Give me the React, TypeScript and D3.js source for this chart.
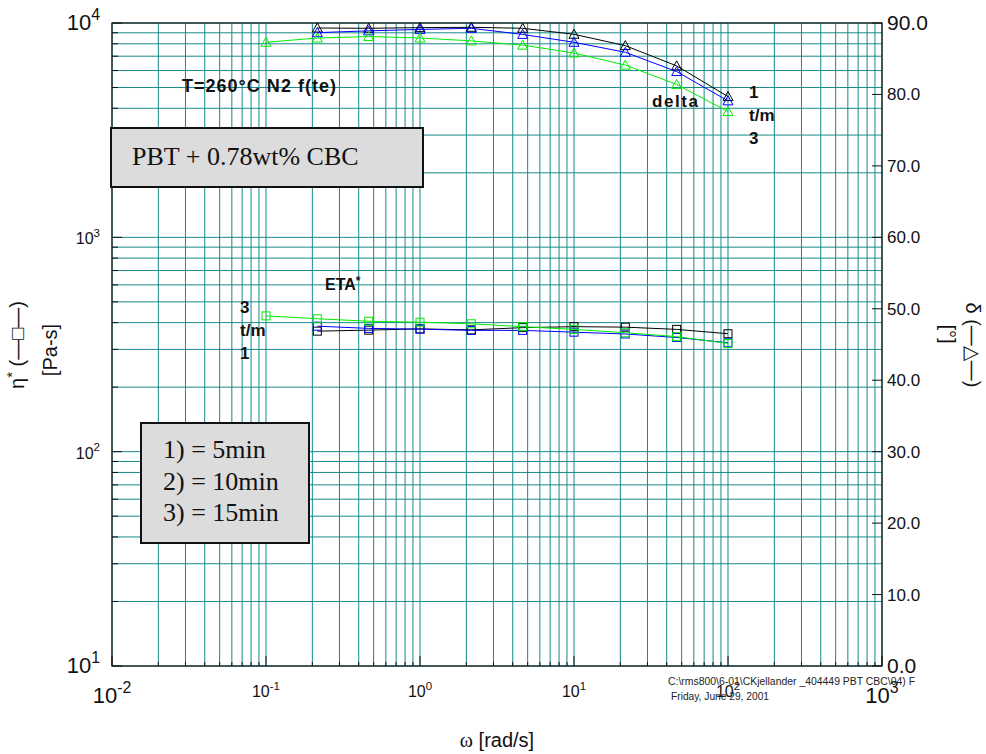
import { scaleLog, scaleLinear, line, format } from "d3";

// frequencies (rad/s), 3 points per decade
const freq = [0.1, 0.2154, 0.4642, 1, 2.154, 4.642, 10, 21.54, 46.42, 100];

// delta [deg] (right axis)
const delta1 = [null, 89.3, 89.26, 89.35, 89.4, 89.26, 88.42, 86.83, 84.0, 79.7];
const delta2 = [null, 88.65, 88.9, 89.1, 89.26, 88.4, 87.3, 85.9, 83.2, 79.1];
const delta3 = [87.3, 87.9, 88.1, 87.9, 87.5, 86.9, 85.8, 84.1, 81.4, 77.6];

// eta* [Pa-s] (left axis)
const eta1 = [null, 365, 369, 374, 370, 379, 383, 381, 372, 355];
const eta2 = [null, 385, 376, 373, 368, 368, 361, 354, 341, 322];
const eta3 = [430, 417, 406, 402, 395, 383, 372, 359, 344, 320];

const seriesColors = ["#000000", "#0000ff", "#00ee00"];

const xExp = [-2, -1, 0, 1, 2, 3];
const yExp = [1, 2, 3, 4];
const rightTicks = [0, 10, 20, 30, 40, 50, 60, 70, 80, 90];

const legendLines = ["1) = 5min", "2) = 10min", "3) = 15min"];

const SANS = "Liberation Sans, Arial, sans-serif";
const SERIF = "Liberation Serif, Times New Roman, serif";
const GRID = "#17898a";

const margin = { top: 23, right: 104, bottom: 88, left: 112 };
const W = 986;
const H = 754;
const iw = W - margin.left - margin.right;
const ih = H - margin.top - margin.bottom;

function minorValues(lo: number, hi: number) {
  const out: number[] = [];
  for (let e = lo; e < hi; e++) {
    for (let m = 1; m <= 9; m++) out.push(m * Math.pow(10, e));
  }
  out.push(Math.pow(10, hi));
  return out;
}

function Pow({ exp, x, y, size, anchor }) {
  return (
    <text x={x} y={y} fontFamily={SANS} fontSize={size} textAnchor={anchor} fill="#111">
      10
      <tspan dy={-size * 0.45} fontSize={size * 0.72}>
        {exp}
      </tspan>
    </text>
  );
}

function Triangle({ x, y, color }) {
  return (
    <path
      d={`M${x},${y - 5}L${x + 5},${y + 4}L${x - 5},${y + 4}Z`}
      fill="none"
      stroke={color}
      strokeWidth={1}
    />
  );
}

function Square({ x, y, color }) {
  return <rect x={x - 4} y={y - 4} width={8} height={8} fill="none" stroke={color} strokeWidth={1} />;
}

export default function App() {
  const x = scaleLog().domain([1e-2, 1e3]).range([0, iw]);
  const yL = scaleLog().domain([10, 1e4]).range([ih, 0]);
  const yR = scaleLinear().domain([0, 90]).range([ih, 0]);

  const xGrid = minorValues(-2, 3);
  const yGrid = minorValues(1, 4);

  const mkLine = (ys) =>
    line<number>()
      .defined((_, i) => ys[i] != null)
      .x((_, i) => x(freq[i]))
      .y((_, i) => ys[i])(freq);

  const deltaSeries = [delta1, delta2, delta3];
  const etaSeries = [eta1, eta2, eta3];
  const f1 = format(".1f");

  return (
    <svg
      width={W}
      height={H}
      style={{ position: "absolute", left: 0, top: 0, background: "#fff" }}
    >
      <g transform={`translate(${margin.left},${margin.top})`}>
        {/* grid */}
        {xGrid.map((v, i) => (
          <line key={`gx${i}`} x1={x(v)} x2={x(v)} y1={0} y2={ih} stroke={GRID} strokeWidth={1} />
        ))}
        {yGrid.map((v, i) => (
          <line key={`gy${i}`} x1={0} x2={iw} y1={yL(v)} y2={yL(v)} stroke={GRID} strokeWidth={1} />
        ))}

        {/* left ticks */}
        {yGrid.map((v, i) => {
          const major = Number.isInteger(Math.log10(v)) ;
          return (
            <line key={`ty${i}`} x1={0} x2={major ? 10 : 6} y1={yL(v)} y2={yL(v)} stroke="#111" />
          );
        })}
        {/* bottom ticks */}
        {xGrid.map((v, i) => {
          const major = Math.abs(Math.log10(v) - Math.round(Math.log10(v))) < 1e-9;
          return (
            <line key={`tx${i}`} x1={x(v)} x2={x(v)} y1={ih} y2={ih - (major ? 10 : 4)} stroke="#111" />
          );
        })}
        {/* right ticks */}
        {rightTicks.map((v) => (
          <line key={`tr${v}`} x1={iw - 10} x2={iw} y1={yR(v)} y2={yR(v)} stroke="#111" />
        ))}

        {/* frame */}
        <rect x={0} y={0} width={iw} height={ih} fill="none" stroke="#111" strokeWidth={1.2} />

        {/* annotation boxes */}
        <rect x={-1} y={105} width={312} height={59} fill="#dcdcdc" stroke="#111" strokeWidth={2} />
        <text x={20} y={142} fontFamily={SERIF} fontSize={26} fill="#111">
          PBT + 0.78wt% CBC
        </text>

        <rect x={29} y={400} width={168} height={120} fill="#dcdcdc" stroke="#111" strokeWidth={2} />
        {legendLines.map((t, i) => (
          <text key={t} x={51} y={435 + i * 31.5} fontFamily={SERIF} fontSize={26} fill="#111">
            {t}
          </text>
        ))}

        {/* delta curves */}
        {deltaSeries.map((s, k) => {
          const ys = s.map((v) => (v == null ? null : yR(v)));
          return (
            <g key={`d${k}`}>
              <path d={mkLine(ys)} fill="none" stroke={seriesColors[k]} strokeWidth={1} />
              {s.map((v, i) =>
                v == null ? null : <Triangle key={i} x={x(freq[i])} y={yR(v)} color={seriesColors[k]} />
              )}
            </g>
          );
        })}

        {/* eta* curves */}
        {etaSeries.map((s, k) => {
          const ys = s.map((v) => (v == null ? null : yL(v)));
          return (
            <g key={`e${k}`}>
              <path d={mkLine(ys)} fill="none" stroke={seriesColors[k]} strokeWidth={1} />
              {s.map((v, i) =>
                v == null ? null : <Square key={i} x={x(freq[i])} y={yL(v)} color={seriesColors[k]} />
              )}
            </g>
          );
        })}

        {/* text annotations */}
        <text x={70} y={69} fontFamily={SANS} fontSize={18} fontWeight="bold" textLength={154} lengthAdjust="spacing" fill="#111">
          T=260°C N2 f(te)
        </text>
        <text x={540} y={84} fontFamily={SANS} fontSize={17} fontWeight="bold" textLength={46} lengthAdjust="spacing" fill="#111">
          delta
        </text>
        {["1", "t/m", "3"].map((t, i) => (
          <text key={`a${i}`} x={637} y={75 + i * 23} fontFamily={SANS} fontSize={17} fontWeight="bold" fill="#111">
            {t}
          </text>
        ))}
        <text x={213} y={267} fontFamily={SANS} fontSize={16} fontWeight="bold" fill="#111">
          ETA
          <tspan dy={-5} fontSize={12}>*</tspan>
        </text>
        {["3", "t/m", "1"].map((t, i) => (
          <text key={`b${i}`} x={128} y={290 + i * 23} fontFamily={SANS} fontSize={17} fontWeight="bold" fill="#111">
            {t}
          </text>
        ))}
      </g>

      {/* x tick labels */}
      {xExp.map((e) => {
        const big = e === -2 || e === 3;
        return (
          <Pow
            key={`xl${e}`}
            exp={e}
            x={margin.left + x(Math.pow(10, e))}
            y={big ? 703 : 697}
            size={big ? 22 : 16}
            anchor="middle"
          />
        );
      })}
      {/* left tick labels */}
      {yExp.map((e) => {
        const big = e === 1 || e === 4;
        return (
          <Pow
            key={`yl${e}`}
            exp={e}
            x={100}
            y={margin.top + yL(Math.pow(10, e)) + (big ? 7 : 7)}
            size={big ? 22 : 16}
            anchor="end"
          />
        );
      })}
      {/* right tick labels */}
      {rightTicks.map((v) => {
        const big = v === 0 || v === 90;
        return (
          <text
            key={`rl${v}`}
            x={margin.left + iw + 5}
            y={margin.top + yR(v) + (big ? 7 : 6)}
            fontFamily={SANS}
            fontSize={big ? 21 : 17}
            fill="#111"
          >
            {f1(v)}
          </text>
        );
      })}

      {/* axis titles */}
      <text x={497} y={747} textAnchor="middle" fontFamily={SANS} fontSize={20} fill="#111">
        <tspan fontFamily={SERIF}>ω</tspan> [rad/s]
      </text>
      <text transform="translate(24,345) rotate(-90)" textAnchor="middle" fontFamily={SANS} fontSize={20} fill="#111">
        η<tspan dy={-7} fontSize={15}>*</tspan>
        <tspan dy={7}> (—□—)</tspan>
      </text>
      <text transform="translate(57,350) rotate(-90)" textAnchor="middle" fontFamily={SANS} fontSize={20} fill="#111">
        [Pa-s]
      </text>
      <text transform="translate(941,334) rotate(90)" textAnchor="middle" fontFamily={SANS} fontSize={20} fill="#111">
        [°]
      </text>
      <text transform="translate(966,345) rotate(90)" textAnchor="middle" fontFamily={SANS} fontSize={20} fill="#111">
        δ (—△—)
      </text>

      {/* file footer */}
      <text x={668} y={685} fontFamily={SANS} fontSize={10} fill="#222" textLength={247} lengthAdjust="spacingAndGlyphs">
        C:\rms800\6-01\CKjellander _404449 PBT CBC\04) F
      </text>
      <text x={671} y={700} fontFamily={SANS} fontSize={10} fill="#222" textLength={98} lengthAdjust="spacingAndGlyphs">
        Friday, June 29, 2001
      </text>
    </svg>
  );
}
